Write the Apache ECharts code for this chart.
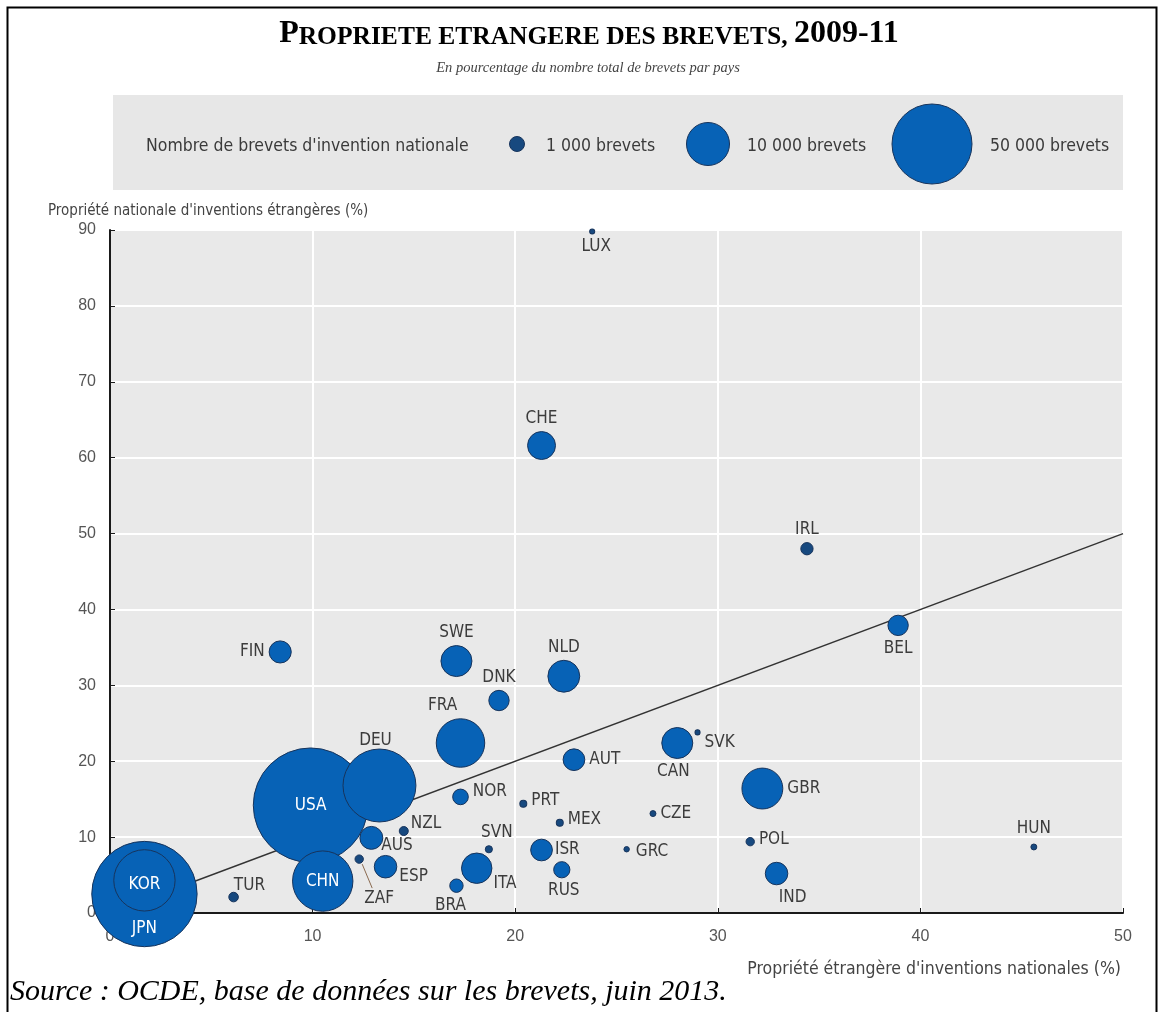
<!DOCTYPE html>
<html><head><meta charset="utf-8">
<script src="https://cdn.jsdelivr.net/npm/echarts@6/dist/echarts.min.js"></script>
<style>html,body{margin:0;padding:0;background:#fff}#c{width:1159px;height:1012px}</style>
</head><body><div id="c"></div>
<script>
// ---------- DATA ----------
const countries = ['LUX','CHE','IRL','BEL','FIN','SWE','NLD','DNK','FRA','DEU','USA','CHN','KOR','JPN','TUR','AUS','NZL','ZAF','ESP','BRA','ITA','SVN','NOR','PRT','MEX','ISR','RUS','AUT','CAN','SVK','CZE','GRC','GBR','POL','IND','HUN'];
// Propriété étrangère d'inventions nationales (%)
const foreignOwnership = [23.8,21.3,34.4,38.9,8.4,17.1,22.4,19.2,17.3,13.3,9.9,10.5,1.7,1.7,6.1,12.9,14.5,12.3,13.6,17.1,18.1,18.7,17.3,20.4,22.2,21.3,22.3,22.9,28.0,29.0,26.8,25.5,32.2,31.6,32.9,45.6];
// Propriété nationale d'inventions étrangères (%)
const domesticOwnership = [89.8,61.6,48.0,37.9,34.4,33.2,31.2,28.0,22.4,16.8,14.2,4.2,4.3,2.5,2.1,9.9,10.8,7.1,6.1,3.6,5.9,8.4,15.3,14.4,11.9,8.3,5.7,20.2,22.4,23.8,13.1,8.4,16.4,9.4,5.2,8.7];
// Nombre de brevets d'invention nationale
const patentCounts = [30,4000,600,2000,2400,5000,5300,2000,14000,40000,115000,25000,26000,95000,300,2600,250,200,2500,750,4800,120,1100,110,110,2300,1200,2300,5000,30,60,40,9000,200,2500,60];
const legendCounts = [1000, 10000, 50000];
const legendLabels = ['1 000 brevets', '10 000 brevets', '50 000 brevets'];
const xTicks = [0, 10, 20, 30, 40, 50];
const yTicks = [0, 10, 20, 30, 40, 50, 60, 70, 80, 90];
const parityLine = [0, 50]; // droite y = x

// ---------- STYLE ----------
const NARROW = "'Liberation Sans Narrow','Arial Narrow','DejaVu Sans Condensed',sans-serif";
const SERIF = "'Liberation Serif','Times New Roman',serif";
const BLUE = '#0762b6';
const SMALL_BLUE = '#17497f';
const EDGE = '#17345c';
const sAnch = [0, Math.sqrt(1000), Math.sqrt(10000), Math.sqrt(50000)];
const dAnch = [3, 15, 43, 80];
function sizeOf(n) {
  const s = Math.sqrt(n);
  let i = 0;
  while (i < sAnch.length - 2 && s > sAnch[i + 1]) i++;
  return dAnch[i] + (s - sAnch[i]) * (dAnch[i + 1] - dAnch[i]) / (sAnch[i + 1] - sAnch[i]);
}
function fillOf(n) { return sizeOf(n) < 13 ? SMALL_BLUE : BLUE; }
// label placement per country: [position, dx, dy, inside-white]
const labelPlace = {
  LUX:['bottom',4,0], CHE:['top',0,0], IRL:['top',0,0], BEL:['bottom',0,0], FIN:['left',0,0],
  SWE:['top',0,0], NLD:['top',0,0], DNK:['top',0,0], FRA:['top',-18,0], DEU:['top',-4,5],
  USA:['inside',0,0,true], CHN:['inside',0,0,true], KOR:['inside',0,4,true], JPN:['inside',0,35,true],
  TUR:['right',-9,-11], AUS:['right',-6,8], NZL:['right',-2,-7], ZAF:['bottom',20,22], ESP:['right',-2,10],
  BRA:['bottom',-6,0], ITA:['right',-3,15], SVN:['top',8,0], NOR:['right',0,-5], PRT:['right',0,-3],
  MEX:['right',0,-3], ISR:['right',-2,0], RUS:['bottom',2,0], AUT:['right',0,0], CAN:['bottom',-4,0],
  SVK:['right',0,10], CZE:['right',0,0], GRC:['right',2,2], GBR:['right',0,0], POL:['right',0,-2],
  IND:['bottom',16,0], HUN:['top',0,-2]
};

const points = countries.map((c, i) => {
  const p = labelPlace[c] || ['right', 0, 0];
  return {
    name: c,
    value: [foreignOwnership[i], domesticOwnership[i], patentCounts[i]],
    itemStyle: {color: fillOf(patentCounts[i])},
    label: {
      show: true, position: p[0], offset: [p[1], p[2]], distance: 4,
      formatter: c, color: p[3] ? '#ffffff' : '#3c3c3c',
      fontFamily: NARROW, fontSize: 17
    }
  };
}).sort((a, b) => b.value[2] - a.value[2]);

const chart = echarts.init(document.getElementById('c'), null, {renderer: 'canvas'});
const gridL = 110, gridR = 1123, gridT = 230, gridB = 913;

const legendY = 144;
const legendX = [517, 708, 932];
const legendTextX = [546, 747, 990];
const legendGraphics = [
  {type:'rect', shape:{x:113, y:95, width:1010, height:95}, style:{fill:'#e7e7e7'}, z:0},
  {type:'text', x:146, y:legendY + 2, style:{text:"Nombre de brevets d'invention nationale", font:"17.5px " + NARROW, fill:'#3a3a3a', verticalAlign:'middle'}}
];
legendCounts.forEach((n, i) => {
  legendGraphics.push({type:'circle', shape:{cx:legendX[i], cy:legendY, r:sizeOf(n) / 2}, style:{fill:i === 0 ? SMALL_BLUE : BLUE, stroke:EDGE, lineWidth:1}});
  legendGraphics.push({type:'text', x:legendTextX[i], y:legendY + 2, style:{text:legendLabels[i], font:"17.5px " + NARROW, fill:'#3a3a3a', verticalAlign:'middle'}});
});

const baseGraphics = [
  {type:'polyline', shape:{points:[[7.5,1012],[7.5,7.5],[1156.5,7.5],[1156.5,1012]]}, style:{stroke:'#000', lineWidth:2, fill:null}, z:10},
  {type:'text', x:589, y:33, style:{
    text:'{a|P}{b|ROPRIETE ETRANGERE DES BREVETS, }{a|2009-11}',
    align:'center', verticalAlign:'middle',
    rich:{a:{fontFamily:SERIF, fontWeight:'bold', fontSize:32, fill:'#000', verticalAlign:'bottom', lineHeight:34},
          b:{fontFamily:SERIF, fontWeight:'bold', fontSize:25.5, fill:'#000', verticalAlign:'bottom', lineHeight:34}}
  }},
  {type:'text', x:588, y:68, style:{text:'En pourcentage du nombre total de brevets par pays', font:"italic 14.5px " + SERIF, fill:'#444', align:'center', verticalAlign:'middle'}},
  ...legendGraphics,
  {type:'text', x:48, y:211, style:{text:"Propriété nationale d'inventions étrangères (%)", font:"15px " + NARROW, fill:'#444', verticalAlign:'middle'}},
  {type:'text', x:1121, y:969, style:{text:"Propriété étrangère d'inventions nationales (%)", font:"17.5px " + NARROW, fill:'#444', align:'right', verticalAlign:'middle'}},
  {type:'text', x:10, y:992, style:{text:'Source : OCDE, base de données sur les brevets, juin 2013.', font:"italic 30px " + SERIF, fill:'#000', verticalAlign:'middle'}}
];

chart.setOption({
  animation: false,
  backgroundColor: '#ffffff',
  grid: {left: gridL, right: 1159 - gridR, top: gridT, bottom: 1012 - gridB, show: true, backgroundColor: '#e9e9e9', borderWidth: 0},
  xAxis: {
    type: 'value', min: xTicks[0], max: xTicks[xTicks.length - 1], interval: 10,
    axisLine: {show: true, onZero: false, lineStyle: {color: '#1a1a1a', width: 2}},
    axisTick: {show: true, inside: true, length: 5, lineStyle: {color: '#1a1a1a', width: 1}},
    axisLabel: {color: '#555', fontFamily: "'Liberation Sans',sans-serif", fontSize: 16, margin: 16},
    splitLine: {show: true, lineStyle: {color: '#ffffff', width: 2}}
  },
  yAxis: {
    type: 'value', min: yTicks[0], max: yTicks[yTicks.length - 1], interval: 10,
    axisLine: {show: true, onZero: false, lineStyle: {color: '#1a1a1a', width: 2}},
    axisTick: {show: true, inside: true, length: 5, lineStyle: {color: '#1a1a1a', width: 1}},
    axisLabel: {color: '#555', fontFamily: "'Liberation Sans',sans-serif", fontSize: 16, margin: 14},
    splitLine: {show: true, lineStyle: {color: '#ffffff', width: 2}}
  },
  series: [
    {
      type: 'line', data: [[parityLine[0], parityLine[0]], [parityLine[1], parityLine[1]]],
      showSymbol: false, symbol: 'none', silent: true, z: 1,
      lineStyle: {color: '#333', width: 1.4}
    },
    {
      type: 'scatter', z: 3, data: points,
      symbolSize: v => sizeOf(v[2]),
      itemStyle: {color: BLUE, borderColor: EDGE, borderWidth: 1, opacity: 1}
    }
  ],
  graphic: baseGraphics
});

// leader line for ZAF, anchored with the chart's own scales
const zi = countries.indexOf('ZAF');
const zp = chart.convertToPixel({gridIndex: 0}, [foreignOwnership[zi], domesticOwnership[zi]]);
chart.setOption({graphic: baseGraphics.concat([
  {type:'line', shape:{x1:zp[0] + 3, y1:zp[1] + 5, x2:zp[0] + 13, y2:zp[1] + 29}, style:{stroke:'#8a6a50', lineWidth:1}, z:5}
])});
</script>
</body></html>
